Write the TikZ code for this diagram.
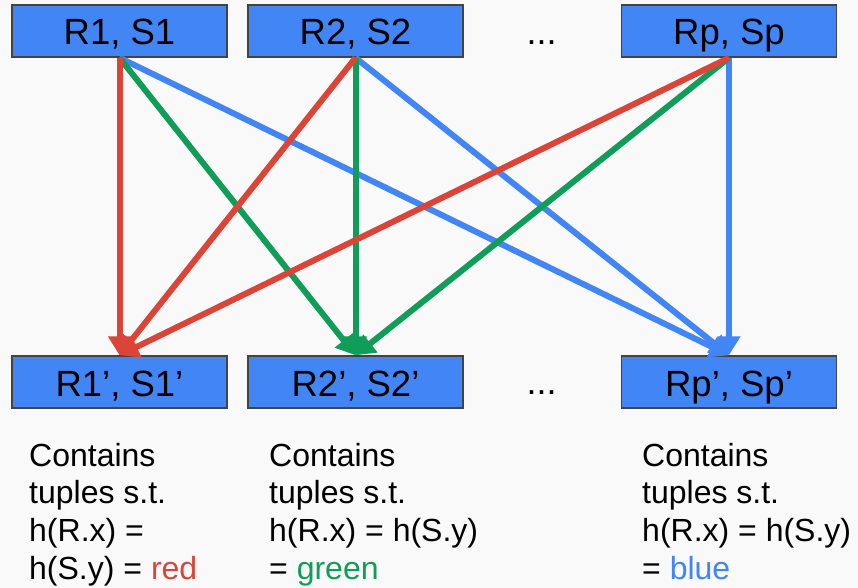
\documentclass[tikz,border=0pt]{standalone}
\usepackage{fontspec}
\setmainfont{Liberation Sans}
\usetikzlibrary{arrows.meta}
\definecolor{bg}{HTML}{F9F9F9}
\definecolor{gblue}{HTML}{4285F4}
\definecolor{gred}{HTML}{DB4437}
\definecolor{ggreen}{HTML}{0F9D58}
\definecolor{gborder}{HTML}{434343}
\tikzset{
  part/.style={draw=gborder, line width=1.5pt, fill=gblue, minimum width=215pt, minimum height=52pt, inner sep=0pt, text height=28pt, text depth=0pt, font=\fontsize{36.5}{40}\selectfont},
  dots/.style={font=\fontsize{36}{40}\selectfont, anchor=base, inner sep=0pt},
  caption/.style={anchor=north west, inner sep=0pt, align=left, font=\fontsize{32}{37.7}\selectfont},
  conn/.style={line width=6pt, -{Triangle[width=22pt 0 0,length=19pt 0 0]}},
}
\begin{document}
\begin{tikzpicture}[x=1pt,y=-1pt]
\fill[bg] (0,0) rectangle (858,588);
\useasboundingbox (0,0) rectangle (858,588);
\node[part] (a1) at (119.5,31) {R1, S1};
\node[part] (a2) at (355.5,31) {R2, S2};
\node[part] (ap) at (729,31) {Rp, Sp};
\node[part] (b1) at (119.5,382) {R1’, S1’};
\node[part] (b2) at (355.5,382) {R2’, S2’};
\node[part] (bp) at (729,382) {Rp’, Sp’};
\node[dots] (d1) at (541.5,45) {...};
\node[dots] (d2) at (541.5,394) {...};
\foreach \s in {a1,a2,ap}{
  \draw[conn, gblue] (\s.south) -- (bp.north);
  \draw[conn, ggreen] (\s.south) -- (b2.north);
  \draw[conn, gred] (\s.south) -- (b1.north);
}
\node[caption] (c1) at (29,439.6) {\strut Contains\\tuples s.t.\\h(R.x) =\\h(S.y) = \textcolor{gred}{red}};
\node[caption] (c2) at (269,439.6) {\strut Contains\\tuples s.t.\\h(R.x) = h(S.y)\\= \textcolor{ggreen}{green}};
\node[caption] (c3) at (642,439.6) {\strut Contains\\tuples s.t.\\h(R.x) = h(S.y)\\= \textcolor{gblue}{blue}};
\end{tikzpicture}
\end{document}
